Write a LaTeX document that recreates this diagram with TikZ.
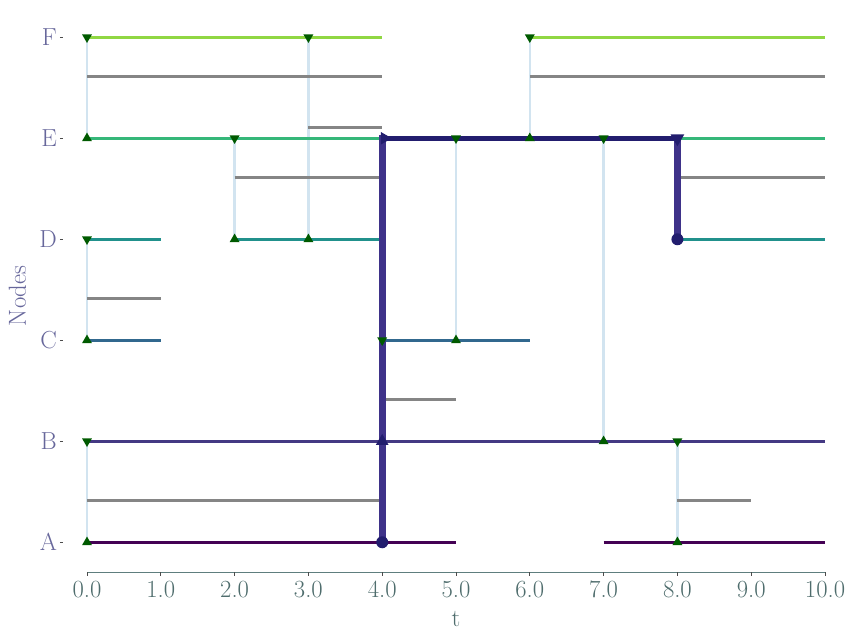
\documentclass[tikz,border=0pt]{standalone}
\usetikzlibrary{shapes.geometric}
\definecolor{nodeA}{HTML}{440154}
\definecolor{nodeB}{HTML}{443983}
\definecolor{nodeC}{HTML}{31688E}
\definecolor{nodeD}{HTML}{21918C}
\definecolor{nodeE}{HTML}{35B779}
\definecolor{nodeF}{HTML}{90D743}
\definecolor{contactblue}{HTML}{D2E4F0}
\definecolor{spangray}{HTML}{858585}
\definecolor{mkgreen}{HTML}{005A00}
\definecolor{pathnavy}{HTML}{3E3289}
\definecolor{pathdark}{HTML}{221D6E}
\definecolor{ylabcol}{HTML}{67679B}
\definecolor{xlabcol}{HTML}{4F6D6D}
\definecolor{axiscol}{HTML}{5E7E7E}
\tikzset{
  timeline/.style={line width=2.25pt},
  edgespan/.style={line width=2.25pt, spangray},
  contact/.style={line width=1.9pt, contactblue},
  mkup/.style={regular polygon, regular polygon sides=3, fill=mkgreen, inner sep=0pt, minimum size=8.6pt},
  mkdown/.style={mkup, shape border rotate=180},
  bigmark/.style={fill=pathdark, minimum size=11pt},
  ticklab/.style={anchor=base, inner sep=0pt, text=xlabcol},
  nodelab/.style={anchor=east, inner sep=0pt, text=ylabcol}
}
\begin{document}
\begin{tikzpicture}[x=55.35pt, y=75.75pt, font=\fontsize{18.5}{22}\selectfont]
\useasboundingbox (-1.1789,-0.967) rectangle (10.393,5.369);
% contacts
\foreach \t/\a/\b in {0/5/4, 0/3/2, 0/1/0, 2/4/3, 3/5/3, 5/4/2, 6/5/4, 7/4/1, 8/1/0}
  \draw[contact] (\t,\a) -- (\t,\b);
% edge spans
\foreach \s/\e/\y in {0/4/4.61, 6/10/4.61, 3/4/4.105, 2/4/3.61, 8/10/3.61, 0/1/2.41, 4/5/1.41, 0/4/0.41, 8/9/0.41}
  \draw[edgespan] (\s,\y) -- (\e,\y);
% node timelines
\foreach \s/\e/\y/\c in {0/5/0/nodeA, 7/10/0/nodeA, 0/10/1/nodeB, 0/1/2/nodeC, 4/6/2/nodeC,
    0/1/3/nodeD, 2/4/3/nodeD, 8/10/3/nodeD, 0/10/4/nodeE, 0/4/5/nodeF, 6/10/5/nodeF}
  \draw[timeline, \c] (\s,\y) -- (\e,\y);
% path
\draw[line width=5.25pt, pathnavy] (4,0) -- (4,4.03);
\draw[line width=3.4pt, pathdark] (4,4) -- (8,4);
\draw[line width=5.25pt, pathnavy] (8,4.03) -- (8,3);
\node[circle, fill=pathdark, minimum size=9pt, inner sep=0pt] (src) at (4,0) {};
\node[circle, fill=pathdark, minimum size=9pt, inner sep=0pt] (dst) at (8,3) {};
% markers
\foreach \t/\y in {0/5, 0/3, 0/1, 2/4, 3/5, 4/2, 5/4, 6/5, 7/4, 8/1}
  \node[mkdown] at (\t,\y) {};
\foreach \t/\y in {0/4, 0/2, 0/0, 2/3, 3/3, 5/2, 6/4, 7/1, 8/0}
  \node[mkup] at (\t,\y) {};
\node[mkup, bigmark] at (4,1) {};
\node[mkup, bigmark, shape border rotate=-90] at (4.03,4) {};
\node[mkdown, bigmark, minimum size=12pt] at (8,4) {};
% axes
\draw[axiscol, line width=0.9pt] (0,-0.297) -- (10,-0.297);
\foreach \t in {0,...,10} {
  \draw[black!70, line width=0.7pt] (\t,-0.297) -- (\t,-0.337);
  \node[ticklab] (x\t) at (\t,-0.551) {\t.0};
}
\node[anchor=base, inner sep=0pt, text=xlabcol] (tlab) at (5,-0.838) {t};
\foreach \n/\y in {A/0, B/1, C/2, D/3, E/4, F/5} {
  \draw[black!70, line width=0.7pt] (-0.366,\y) -- (-0.325,\y);
  \node[nodelab] (l\n) at (-0.405,\y) {\n};
}
\node[rotate=90, anchor=base, inner sep=0pt, text=ylabcol] (ylab) at (-0.827,2.44) {Nodes};
\end{tikzpicture}
\end{document}
